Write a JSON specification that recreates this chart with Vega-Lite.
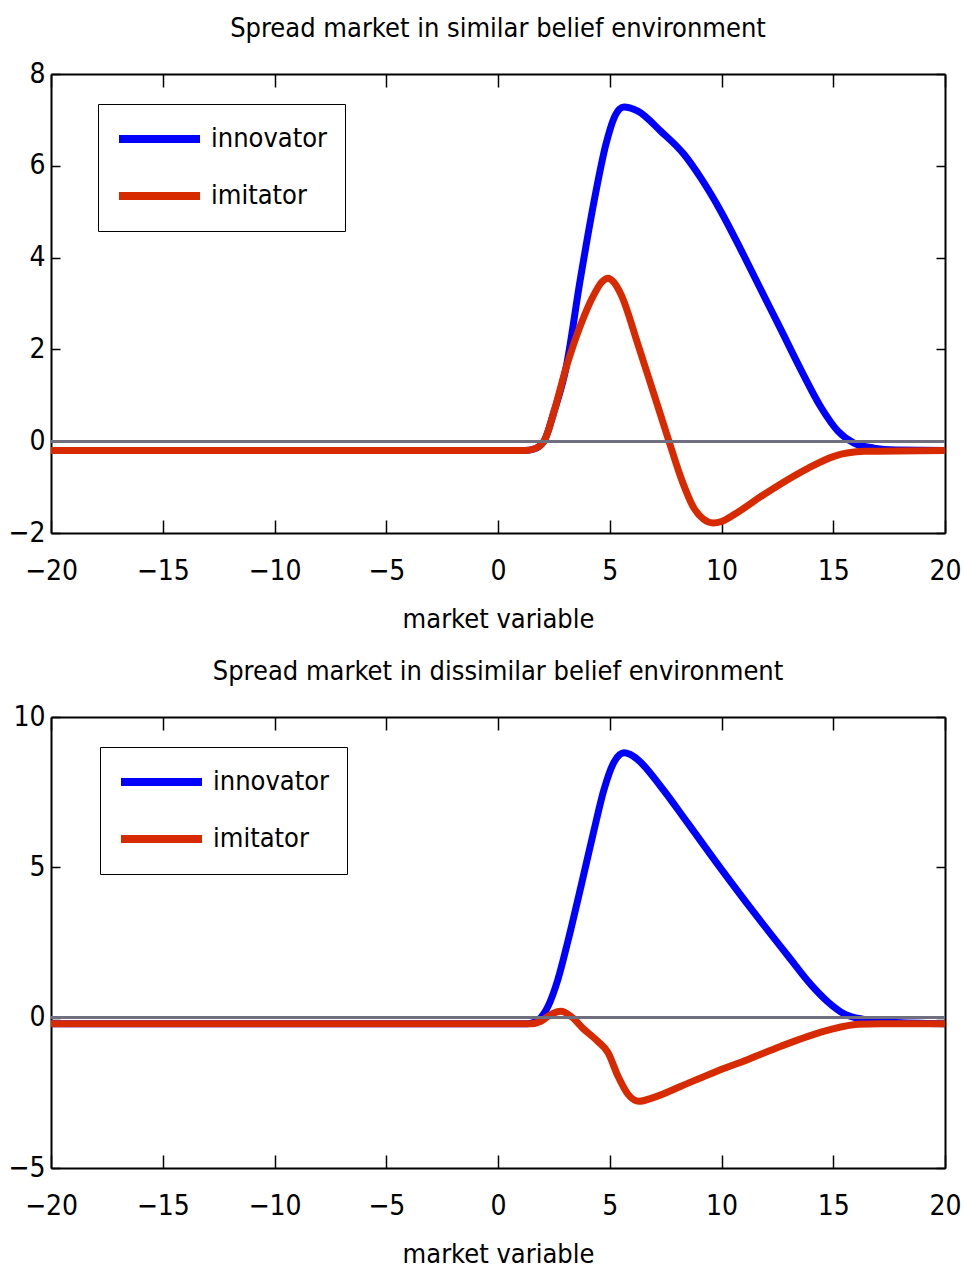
{
  "$schema": "https://vega.github.io/schema/vega-lite/v6.json",
  "padding": {"left": 7, "top": 15, "right": 4, "bottom": 2},
  "config": {
    "font": "'DejaVu Sans Condensed', 'DejaVu Sans', sans-serif",
    "view": {"stroke": null},
    "axis": {
      "grid": false,
      "domainColor": "black",
      "domainWidth": 2,
      "tickColor": "black",
      "tickWidth": 1.5,
      "labelFont": "'DejaVu Sans Condensed', 'DejaVu Sans', sans-serif",
      "labelFontSize": 28,
      "labelColor": "black",
      "labelFlush": false,
      "labelOverlap": false,
      "titleFont": "'DejaVu Sans Condensed', 'DejaVu Sans', sans-serif",
      "titleFontSize": 27,
      "titleFontWeight": "normal",
      "titleColor": "black"
    },
    "title": {"font": "'DejaVu Sans Condensed', 'DejaVu Sans', sans-serif", "fontSize": 27, "fontWeight": "normal", "color": "black"},
    "legend": {
      "orient": "none",
      "title": null,
      "strokeColor": "black",
      "fillColor": "white",
      "padding": 17,
      "rowPadding": 21,
      "clipHeight": 36,
      "symbolType": "stroke",
      "symbolSize": 6561,
      "symbolStrokeWidth": 8,
      "labelFont": "'DejaVu Sans Condensed', 'DejaVu Sans', sans-serif",
      "labelFontSize": 27,
      "labelColor": "black",
      "labelOffset": 7
    }
  },
  "datasets": {
    "similar": [
      {"series": "innovator", "x": -20, "y": -0.2},
      {"series": "innovator", "x": 1.2, "y": -0.2},
      {"series": "innovator", "x": 1.61, "y": -0.17},
      {"series": "innovator", "x": 2.06, "y": 0.0},
      {"series": "innovator", "x": 2.51, "y": 0.65},
      {"series": "innovator", "x": 3.04, "y": 1.59},
      {"series": "innovator", "x": 3.67, "y": 3.49},
      {"series": "innovator", "x": 4.3, "y": 5.23},
      {"series": "innovator", "x": 4.83, "y": 6.47},
      {"series": "innovator", "x": 5.19, "y": 7.04},
      {"series": "innovator", "x": 5.45, "y": 7.24},
      {"series": "innovator", "x": 5.64, "y": 7.28},
      {"series": "innovator", "x": 5.9, "y": 7.26},
      {"series": "innovator", "x": 6.26, "y": 7.19},
      {"series": "innovator", "x": 7.29, "y": 6.75},
      {"series": "innovator", "x": 8.32, "y": 6.25},
      {"series": "innovator", "x": 9.08, "y": 5.73},
      {"series": "innovator", "x": 9.98, "y": 5.0},
      {"series": "innovator", "x": 10.87, "y": 4.17},
      {"series": "innovator", "x": 11.68, "y": 3.38},
      {"series": "innovator", "x": 12.66, "y": 2.43},
      {"series": "innovator", "x": 13.56, "y": 1.55},
      {"series": "innovator", "x": 14.45, "y": 0.74},
      {"series": "innovator", "x": 15.21, "y": 0.22},
      {"series": "innovator", "x": 15.93, "y": -0.04},
      {"series": "innovator", "x": 16.82, "y": -0.15},
      {"series": "innovator", "x": 17.8, "y": -0.19},
      {"series": "innovator", "x": 20, "y": -0.2},
      {"series": "imitator", "x": -20, "y": -0.2},
      {"series": "imitator", "x": 1.2, "y": -0.2},
      {"series": "imitator", "x": 1.61, "y": -0.17},
      {"series": "imitator", "x": 2.06, "y": 0.0},
      {"series": "imitator", "x": 2.51, "y": 0.65},
      {"series": "imitator", "x": 3.04, "y": 1.59},
      {"series": "imitator", "x": 3.71, "y": 2.55},
      {"series": "imitator", "x": 4.3, "y": 3.2},
      {"series": "imitator", "x": 4.65, "y": 3.47},
      {"series": "imitator", "x": 4.92, "y": 3.55},
      {"series": "imitator", "x": 5.2, "y": 3.45},
      {"series": "imitator", "x": 5.5, "y": 3.2},
      {"series": "imitator", "x": 6.26, "y": 2.11},
      {"series": "imitator", "x": 6.98, "y": 1.02},
      {"series": "imitator", "x": 7.65, "y": 0.0},
      {"series": "imitator", "x": 8.19, "y": -0.8},
      {"series": "imitator", "x": 8.77, "y": -1.46},
      {"series": "imitator", "x": 9.2, "y": -1.7},
      {"series": "imitator", "x": 9.62, "y": -1.78},
      {"series": "imitator", "x": 10.0, "y": -1.75},
      {"series": "imitator", "x": 10.56, "y": -1.6},
      {"series": "imitator", "x": 11.9, "y": -1.16},
      {"series": "imitator", "x": 13.87, "y": -0.59},
      {"series": "imitator", "x": 15.03, "y": -0.33},
      {"series": "imitator", "x": 16.38, "y": -0.22},
      {"series": "imitator", "x": 20, "y": -0.2}
    ],
    "dissimilar": [
      {"series": "innovator", "x": -20, "y": -0.2},
      {"series": "innovator", "x": 1.3, "y": -0.2},
      {"series": "innovator", "x": 1.5, "y": -0.18},
      {"series": "innovator", "x": 1.83, "y": -0.06},
      {"series": "innovator", "x": 2.24, "y": 0.38},
      {"series": "innovator", "x": 2.68, "y": 1.27},
      {"series": "innovator", "x": 3.13, "y": 2.55},
      {"series": "innovator", "x": 3.71, "y": 4.36},
      {"series": "innovator", "x": 4.3, "y": 6.25},
      {"series": "innovator", "x": 4.74, "y": 7.58},
      {"series": "innovator", "x": 5.19, "y": 8.5},
      {"series": "innovator", "x": 5.45, "y": 8.75},
      {"series": "innovator", "x": 5.64, "y": 8.81},
      {"series": "innovator", "x": 5.9, "y": 8.76},
      {"series": "innovator", "x": 6.26, "y": 8.58},
      {"series": "innovator", "x": 7.29, "y": 7.68},
      {"series": "innovator", "x": 8.5, "y": 6.46},
      {"series": "innovator", "x": 9.98, "y": 4.95},
      {"series": "innovator", "x": 11.45, "y": 3.5},
      {"series": "innovator", "x": 12.98, "y": 2.05},
      {"series": "innovator", "x": 14.0, "y": 1.1},
      {"series": "innovator", "x": 14.77, "y": 0.52},
      {"series": "innovator", "x": 15.48, "y": 0.13},
      {"series": "innovator", "x": 16.38, "y": -0.06},
      {"series": "innovator", "x": 17.58, "y": -0.15},
      {"series": "innovator", "x": 20, "y": -0.2},
      {"series": "imitator", "x": -20, "y": -0.2},
      {"series": "imitator", "x": 1.48, "y": -0.2},
      {"series": "imitator", "x": 1.92, "y": -0.12},
      {"series": "imitator", "x": 2.37, "y": 0.11},
      {"series": "imitator", "x": 2.82, "y": 0.21},
      {"series": "imitator", "x": 3.27, "y": 0.04},
      {"series": "imitator", "x": 3.85, "y": -0.39},
      {"series": "imitator", "x": 4.47, "y": -0.79},
      {"series": "imitator", "x": 4.92, "y": -1.16},
      {"series": "imitator", "x": 5.37, "y": -1.95},
      {"series": "imitator", "x": 5.82, "y": -2.55},
      {"series": "imitator", "x": 6.31, "y": -2.78},
      {"series": "imitator", "x": 6.98, "y": -2.65},
      {"series": "imitator", "x": 8.19, "y": -2.28},
      {"series": "imitator", "x": 9.66, "y": -1.82},
      {"series": "imitator", "x": 11.19, "y": -1.39},
      {"series": "imitator", "x": 12.66, "y": -0.95},
      {"series": "imitator", "x": 13.87, "y": -0.62},
      {"series": "imitator", "x": 14.9, "y": -0.39},
      {"series": "imitator", "x": 16.11, "y": -0.22},
      {"series": "imitator", "x": 17.14, "y": -0.2},
      {"series": "imitator", "x": 20, "y": -0.2}
    ]
  },
  "spacing": 26,
  "resolve": {"scale": {"color": "independent"}, "legend": {"color": "independent"}},
  "vconcat": [
    {
      "title": {"text": "Spread market in similar belief environment", "offset": 17},
      "width": 894,
      "height": 459,
      "data": {"name": "similar"},
      "resolve": {"axis": {"x": "independent", "y": "independent"}},
      "layer": [
        {
          "mark": {"type": "line", "strokeWidth": 7, "interpolate": "monotone"},
          "encoding": {
            "x": {
              "field": "x", "type": "quantitative",
              "scale": {"domain": [-20, 20], "nice": false, "zero": false},
              "axis": {"orient": "bottom", "values": [-20, -15, -10, -5, 0, 5, 10, 15, 20], "title": "market variable", "tickSize": -13, "labelPadding": 37, "titlePadding": 21}
            },
            "y": {
              "field": "y", "type": "quantitative",
              "scale": {"domain": [-2, 8], "nice": false, "zero": false},
              "axis": {"orient": "left", "values": [-2, 0, 2, 4, 6, 8], "title": null, "tickSize": -9, "labelPadding": 15}
            },
            "color": {
              "field": "series", "type": "nominal",
              "scale": {"domain": ["innovator", "imitator"], "range": ["#0000ff", "#d82a00"]},
              "legend": {"legendX": 47, "legendY": 30}
            }
          }
        },
        {
          "mark": {"type": "rule", "color": "#6f6f7f", "strokeWidth": 2.5},
          "encoding": {
            "x": {"datum": -20, "type": "quantitative", "axis": {"orient": "top", "values": [-20, -15, -10, -5, 0, 5, 10, 15, 20], "labels": false, "title": null, "tickSize": -13, "minExtent": 0, "maxExtent": 0}},
            "x2": {"datum": 20},
            "y": {"datum": 0, "type": "quantitative", "axis": {"orient": "right", "values": [-2, 0, 2, 4, 6, 8], "labels": false, "title": null, "tickSize": -9, "minExtent": 0, "maxExtent": 0}}
          }
        }
      ]
    },
    {
      "title": {"text": "Spread market in dissimilar belief environment", "offset": 17},
      "width": 894,
      "height": 451,
      "data": {"name": "dissimilar"},
      "resolve": {"axis": {"x": "independent", "y": "independent"}},
      "layer": [
        {
          "mark": {"type": "line", "strokeWidth": 7, "interpolate": "monotone"},
          "encoding": {
            "x": {
              "field": "x", "type": "quantitative",
              "scale": {"domain": [-20, 20], "nice": false, "zero": false},
              "axis": {"orient": "bottom", "values": [-20, -15, -10, -5, 0, 5, 10, 15, 20], "title": "market variable", "tickSize": -13, "labelPadding": 37, "titlePadding": 21}
            },
            "y": {
              "field": "y", "type": "quantitative",
              "scale": {"domain": [-5, 10], "nice": false, "zero": false},
              "axis": {"orient": "left", "values": [-5, 0, 5, 10], "title": null, "tickSize": -9, "labelPadding": 15}
            },
            "color": {
              "field": "series", "type": "nominal",
              "scale": {"domain": ["innovator", "imitator"], "range": ["#0000ff", "#d82a00"]},
              "legend": {"legendX": 49, "legendY": 30}
            }
          }
        },
        {
          "mark": {"type": "rule", "color": "#6f6f7f", "strokeWidth": 2.5},
          "encoding": {
            "x": {"datum": -20, "type": "quantitative", "axis": {"orient": "top", "values": [-20, -15, -10, -5, 0, 5, 10, 15, 20], "labels": false, "title": null, "tickSize": -13, "minExtent": 0, "maxExtent": 0}},
            "x2": {"datum": 20},
            "y": {"datum": 0, "type": "quantitative", "axis": {"orient": "right", "values": [-5, 0, 5, 10], "labels": false, "title": null, "tickSize": -9, "minExtent": 0, "maxExtent": 0}}
          }
        }
      ]
    }
  ]
}
